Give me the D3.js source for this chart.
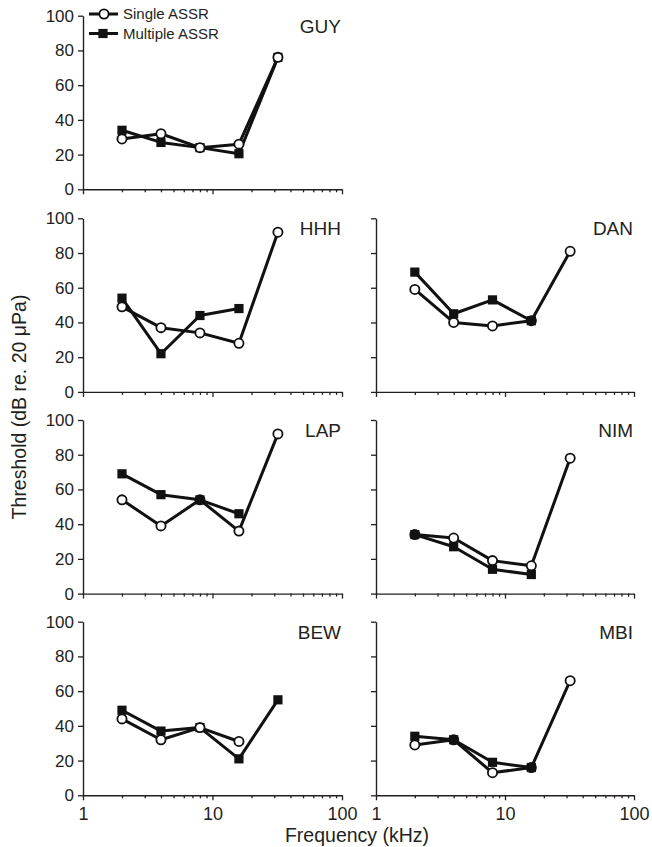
<!DOCTYPE html>
<html>
<head>
<meta charset="utf-8">
<script src="https://cdn.jsdelivr.net/npm/d3@7"></script>
<style>
  html, body { margin: 0; padding: 0; background: #fff; }
  svg { display: block; font-family: "Liberation Sans", Arial, Helvetica, sans-serif; }
</style>
</head>
<body>
<svg id="chart" width="652" height="847"></svg>
<script>
// ---------------- data ----------------
const frequencies = [2, 4, 8, 16, 32];            // kHz
const panelNames  = ["GUY", "HHH", "DAN", "LAP", "NIM", "BEW", "MBI"];
const panelRow    = [0, 1, 1, 2, 2, 3, 3];
const panelCol    = [0, 0, 1, 0, 1, 0, 1];
// Threshold (dB re. 20 µPa); null = no point
const singleASSR = [
  [29, 32, 24, 26, 76],   // GUY
  [49, 37, 34, 28, 92],   // HHH
  [59, 40, 38, 41, 81],   // DAN
  [54, 39, 54, 36, 92],   // LAP
  [34, 32, 19, 16, 78],   // NIM
  [44, 32, 39, 31, null], // BEW
  [29, 32, 13, 16, 66]    // MBI
];
const multipleASSR = [
  [34, 27, 24, 20.5, 76], // GUY
  [54, 22, 44, 48, null], // HHH
  [69, 45, 53, 41, null], // DAN
  [69, 57, 54, 46, null], // LAP
  [34, 27, 14, 11, null], // NIM
  [49, 37, 39, 21, 55],   // BEW
  [34, 32, 19, 16, null]  // MBI
];
const yTicks = [0, 20, 40, 60, 80, 100];
const xTicks = [1,2,3,4,5,6,7,8,9,10,20,30,40,50,60,70,80,90,100];
const xLabelTicks = [1, 10, 100];
const seriesNames = ["Single ASSR", "Multiple ASSR"];
const circlesOnTop = ["GUY", "HHH", "BEW"];

// ---------------- layout ----------------
const colRange = [[83, 342], [376, 634]];
const rowTop = [15.7, 218.3, 420, 621.7];
const panelH = 173.6;
const ink = "#231f20";

const svg = d3.select("#chart");

panelNames.forEach((name, i) => {
  const r = panelRow[i], c = panelCol[i];
  const top = rowTop[r];
  const x = d3.scaleLog().domain([1, 100]).range(colRange[c]);
  const y = d3.scaleLinear().domain([0, 100]).range([top + panelH, top]);
  const g = svg.append("g");

  // y axis
  const ya = g.append("g")
    .attr("transform", `translate(${colRange[c][0]},0)`)
    .call(d3.axisLeft(y).tickValues(yTicks).tickSizeInner(5).tickSizeOuter(0)
      .tickPadding(4).tickFormat(c === 0 ? d3.format("d") : () => ""));
  // x axis
  const isBottom = r === 3;
  const xa = g.append("g")
    .attr("transform", `translate(0,${top + panelH})`)
    .call(d3.axisBottom(x).tickValues(xTicks).tickSizeInner(3).tickSizeOuter(0)
      .tickPadding(9).tickFormat(d => (isBottom && xLabelTicks.includes(d)) ? d3.format("d")(d) : ""));
  xa.selectAll(".tick line").attr("y2", d => xLabelTicks.includes(d) ? 5 : 3);
  xa.selectAll(".tick").filter(d => !(isBottom && xLabelTicks.includes(d))).select("text").remove();
  ya.selectAll(".tick").filter(() => c !== 0).select("text").remove();

  [ya, xa].forEach(a => {
    a.select(".domain").attr("stroke", ink).attr("stroke-width", 1.4);
    a.selectAll(".tick line").attr("stroke", ink).attr("stroke-width", 1.3);
    a.selectAll(".tick text").attr("fill", ink);
  });
  ya.selectAll(".tick text").attr("font-size", 17);
  xa.selectAll(".tick text").attr("font-size", 18);

  // panel label
  g.append("text")
    .attr("x", colRange[c][1] - 1)
    .attr("y", top + 17)
    .attr("text-anchor", "end")
    .attr("font-size", 19)
    .attr("fill", ink)
    .text(name);

  const line = d3.line()
    .defined(d => d.v != null)
    .x(d => x(d.f))
    .y(d => y(d.v));

  const sData = frequencies.map((f, k) => ({ f, v: singleASSR[i][k] }));
  const mData = frequencies.map((f, k) => ({ f, v: multipleASSR[i][k] }));

  function drawSingle() {
    g.append("path").datum(sData).attr("d", line)
      .attr("fill", "none").attr("stroke", "#111").attr("stroke-width", 3)
      .attr("stroke-linejoin", "round");
    g.selectAll(null).data(sData.filter(d => d.v != null)).join("circle")
      .attr("cx", d => x(d.f)).attr("cy", d => y(d.v)).attr("r", 4.6)
      .attr("fill", "#fff").attr("stroke", "#111").attr("stroke-width", 1.8);
  }
  function drawMultiple() {
    g.append("path").datum(mData).attr("d", line)
      .attr("fill", "none").attr("stroke", "#111").attr("stroke-width", 3)
      .attr("stroke-linejoin", "round");
    g.selectAll(null).data(mData.filter(d => d.v != null)).join("rect")
      .attr("x", d => x(d.f) - 4.6).attr("y", d => y(d.v) - 4.6)
      .attr("width", 9.2).attr("height", 9.2)
      .attr("fill", "#111");
  }
  if (circlesOnTop.includes(name)) { drawMultiple(); drawSingle(); }
  else { drawSingle(); drawMultiple(); }

  // legend in the first panel
  if (i === 0) {
    const leg = svg.append("g");
    const ly = [14, 33.5];
    seriesNames.forEach((s, k) => {
      leg.append("line").attr("x1", 89).attr("x2", 118).attr("y1", ly[k]).attr("y2", ly[k])
        .attr("stroke", "#111").attr("stroke-width", 3);
      if (k === 0) {
        leg.append("circle").attr("cx", 104).attr("cy", ly[k]).attr("r", 4.6)
          .attr("fill", "#fff").attr("stroke", "#111").attr("stroke-width", 1.8);
      } else {
        leg.append("rect").attr("x", 103 - 4.6).attr("y", ly[k] - 4.6)
          .attr("width", 9.2).attr("height", 9.2).attr("fill", "#111");
      }
      leg.append("text").attr("x", 123).attr("y", ly[k] + 5.2)
        .attr("font-size", 15).attr("fill", ink).text(s);
    });
  }
});

// axis titles
svg.append("text")
  .attr("transform", "translate(26,407) rotate(-90)")
  .attr("text-anchor", "middle")
  .attr("font-size", 19.5)
  .attr("fill", ink)
  .text("Threshold (dB re. 20 \u03BCPa)");

svg.append("text")
  .attr("x", 357)
  .attr("y", 842)
  .attr("text-anchor", "middle")
  .attr("font-size", 19.5)
  .attr("fill", ink)
  .text("Frequency (kHz)");
</script>
</body>
</html>
